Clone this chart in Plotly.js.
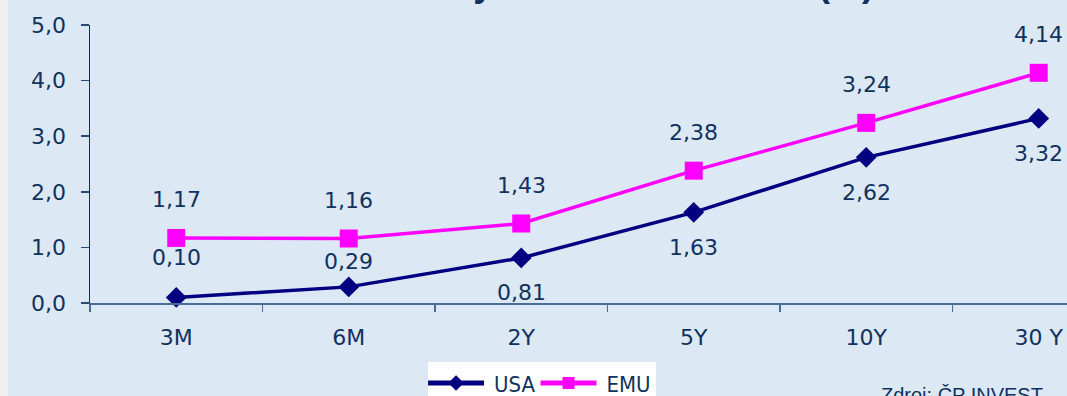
<!DOCTYPE html>
<html>
<head>
<meta charset="utf-8">
<script src="https://cdn.plot.ly/plotly-3.0.1.min.js"></script>
<style>
  html, body { margin: 0; padding: 0; background: #efefef; overflow: hidden; }
  #chart { position: absolute; left: 8px; top: 0; width: 1059px; height: 396px; }
</style>
</head>
<body>
<div id="chart"></div>
<script>
// Maturities on the yield curve
const maturities = ['3M', '6M', '2Y', '5Y', '10Y', '30 Y'];
// Government bond yields (%)
const usaYields = [0.10, 0.29, 0.81, 1.63, 2.62, 3.32];
const emuYields = [1.17, 1.16, 1.43, 2.38, 3.24, 4.14];

// Vertical offset (px) of each value label from its marker
const usaLabelShift = [40, 25, -35, -35, -35, -35];
const emuLabelShift = [38, 38, 38, 38, 38, 38];

const textColor = '#10325e';
const numFont = 'DejaVu Sans, Verdana, sans-serif';

function fmt(v) { return v.toFixed(2).replace('.', ','); }

function valueLabels(values, shifts) {
  return values.map((v, i) => ({
    x: maturities[i], y: v, xref: 'x', yref: 'y',
    text: fmt(v), showarrow: false, yshift: shifts[i],
    font: { family: numFont, size: 22, color: textColor }
  }));
}

const traces = [
  {
    name: 'USA', x: maturities, y: usaYields, type: 'scatter', mode: 'lines+markers',
    line: { color: '#000080', width: 3.5 },
    marker: { symbol: 'diamond', size: 16, color: '#000080' },
    cliponaxis: false, hoverinfo: 'skip'
  },
  {
    name: 'EMU', x: maturities, y: emuYields, type: 'scatter', mode: 'lines+markers',
    line: { color: '#ff00ff', width: 3.5 },
    marker: { symbol: 'square', size: 18, color: '#ff00ff' },
    cliponaxis: false, hoverinfo: 'skip'
  }
];

const layout = {
  width: 1059, height: 396,
  paper_bgcolor: '#dde8f5', plot_bgcolor: 'rgba(0,0,0,0)',
  separators: ', ',
  margin: { l: 82, r: 0, t: 25, b: 93, autoexpand: false },
  title: {
    text: 'Úrokové křivky v USA a eurozóně (%)',
    font: { family: 'Liberation Sans, Arial, sans-serif', size: 36, color: textColor, weight: 'bold' },
    xref: 'container', yref: 'container',
    x: 227 / 1059, xanchor: 'left', y: 0.993, yanchor: 'bottom',
    pad: { b: 7 }
  },
  showlegend: true,
  legend: {
    orientation: 'h', x: 0.346, xanchor: 'left', y: -0.213, yanchor: 'top',
    bgcolor: '#ffffff', borderwidth: 0, itemsizing: 'constant', itemwidth: 56,
    font: { family: 'Liberation Sans Narrow, DejaVu Sans Condensed, Arial Narrow, sans-serif', size: 22, color: textColor },
    itemclick: false, itemdoubleclick: false
  },
  xaxis: {
    type: 'category', range: [-0.5, 5.164], fixedrange: true,
    showgrid: false, zeroline: false,
    showline: true, linecolor: '#4a6d98', linewidth: 1.5,
    ticks: 'outside', tickson: 'boundaries', ticklen: 7, tickcolor: '#4a6d98', tickwidth: 1.5,
    ticklabelstandoff: 14,
    tickfont: { family: numFont, size: 22, color: textColor }
  },
  yaxis: {
    range: [0, 5], dtick: 1, tick0: 0, tickformat: '.1f', fixedrange: true,
    showgrid: false, zeroline: false,
    showline: true, linecolor: '#0b2d5c', linewidth: 1.5,
    ticks: 'outside', ticklen: 8, tickcolor: '#2a4a78', tickwidth: 1.5,
    ticklabelstandoff: 10,
    tickfont: { family: numFont, size: 22, color: textColor }
  },
  annotations: [
    ...valueLabels(usaYields, usaLabelShift),
    ...valueLabels(emuYields, emuLabelShift),
    {
      text: 'Zdroj: ČP INVEST', xref: 'paper', yref: 'paper',
      x: 0.808, xanchor: 'left', y: -0.285, yanchor: 'top', showarrow: false,
      font: { family: 'Liberation Sans, Arial, sans-serif', size: 20, color: textColor }
    }
  ]
};

Plotly.newPlot('chart', traces, layout, { displayModeBar: false, staticPlot: true }).then(gd => {
  // longer legend sample lines with the symbol centred on them
  gd.querySelectorAll('.legend .legendlines path').forEach(p => p.setAttribute('d', 'M0,0h56'));
  gd.querySelectorAll('.legend .legendpoints path').forEach(p => p.setAttribute('transform', 'translate(28,0)'));
});
</script>
</body>
</html>
